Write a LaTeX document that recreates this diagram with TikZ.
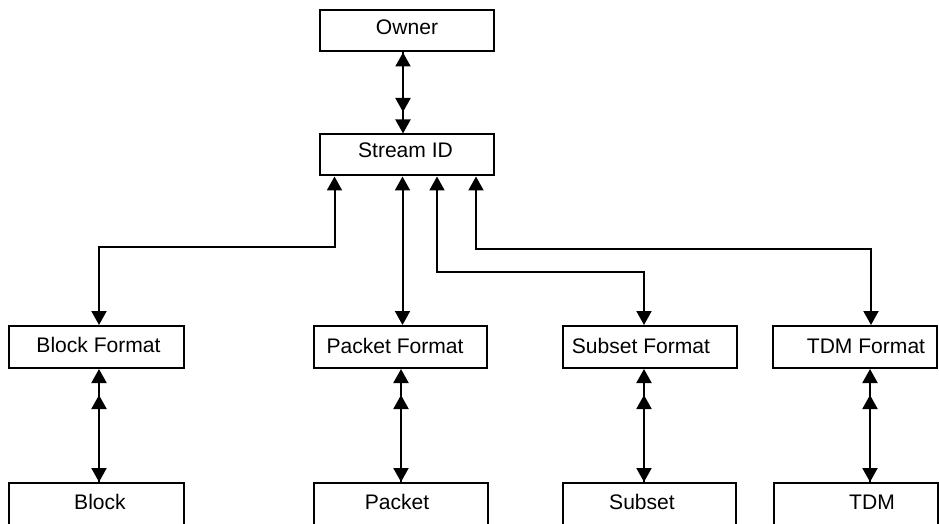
\documentclass[tikz,border=0pt]{standalone}
\usepackage{fontspec}
\setmainfont{Liberation Sans}
\usetikzlibrary{arrows.meta,calc}
\def\u{0.75pt}
\begin{document}
\begin{tikzpicture}[x=0.75pt,y=-0.75pt,
  >={Triangle[length=10.5pt,width=11.25pt]},
  box/.style={draw, line width=1.5pt, inner sep=0pt, minimum height=42*\u},
  lbl/.style={font=\fontsize{15.8pt}{19pt}\selectfont, inner sep=0pt},
  con/.style={line width=1.5pt}]
\useasboundingbox (0,0) rectangle (939,524);
\fill[white] (0,0) rectangle (939,524);
\clip (0,0) rectangle (939,524);
% top boxes
\node[box, minimum width=174*\u, minimum height=41*\u, label={[lbl,xshift=0.5*\u,yshift=4*\u]center:Owner}] (owner) at (406.5,31) {};
\node[box, minimum width=174*\u, minimum height=41*\u, label={[lbl,xshift=-1*\u,yshift=4.5*\u]center:Stream ID}] (stream) at (406.5,155) {};
% format boxes
\node[box, minimum width=175*\u, label={[lbl,xshift=2.5*\u,yshift=2*\u]center:Block Format}] (bf) at (96,347) {};
\node[box, minimum width=173*\u, label={[lbl,xshift=-5*\u,yshift=1*\u]center:Packet Format}] (pf) at (400,347) {};
\node[box, minimum width=174*\u, label={[lbl,xshift=-8.5*\u,yshift=1*\u]center:Subset Format}] (sf) at (649.5,347) {};
\node[box, minimum width=164*\u, label={[lbl,xshift=11*\u,yshift=1*\u]center:TDM Format}] (tf) at (855,347) {};
% bottom boxes
\node[box, minimum width=175*\u, label={[lbl,xshift=4*\u,yshift=2*\u]center:Block}] (bb) at (96,504) {};
\node[box, minimum width=174*\u, label={[lbl,xshift=-3.5*\u,yshift=2*\u]center:Packet}] (pb) at (400.5,504) {};
\node[box, minimum width=173*\u, label={[lbl,xshift=-7*\u,yshift=2*\u]center:Subset}] (sb) at (649,504) {};
\node[box, minimum width=164*\u, label={[lbl,xshift=16.5*\u,yshift=2*\u]center:TDM}] (tb) at (855.5,504) {};
% owner <-> stream
\draw[con,<->] ($(owner.south)+(-3.5,0)$) coordinate (o1) -- (o1 |- stream.north);
\draw[con,->] (o1) -- ($(o1)+(0,59.5)$);
% stream -> formats
\draw[con,<->] ($(stream.south west)+(16,0)$) |- ($(bf.north)+(3,-78)$) -- ($(bf.north)+(3,0)$);
\draw[con,<->] ($(stream.south)+(-4,0)$) coordinate (s2) -- (s2 |- pf.north);
\draw[con,<->] ($(stream.south)+(30.5,0)$) |- ($(sf.north)+(-5.5,-53)$) -- ($(sf.north)+(-5.5,0)$);
\draw[con,<->] ($(stream.south)+(69.5,0)$) |- ($(tf.north)+(16,-76)$) -- ($(tf.north)+(16,0)$);
% formats <-> items
\draw[con,<->] ($(bf.south)+(3,0)$) coordinate (b1) -- (b1 |- bb.north);
\draw[con,->] (b1 |- bb.north) -- ($(b1)+(0,26)$);
\draw[con,<->] ($(pf.south)+(1,0)$) coordinate (b2) -- (b2 |- pb.north);
\draw[con,->] (b2 |- pb.north) -- ($(b2)+(0,26)$);
\draw[con,<->] ($(sf.south)+(-5.5,0)$) coordinate (b3) -- (b3 |- sb.north);
\draw[con,->] (b3 |- sb.north) -- ($(b3)+(0,26)$);
\draw[con,<->] ($(tf.south)+(15,0)$) coordinate (b4) -- (b4 |- tb.north);
\draw[con,->] (b4 |- tb.north) -- ($(b4)+(0,26)$);
\end{tikzpicture}
\end{document}
